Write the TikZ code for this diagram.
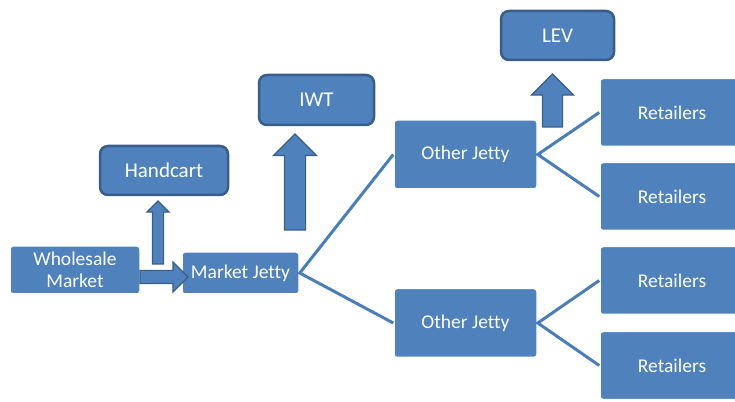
\documentclass[tikz,border=0pt]{standalone}
\usepackage{fontspec}
\setmainfont[Ligatures=NoCommon]{Carlito}
\usetikzlibrary{shapes.arrows}
\definecolor{boxfill}{HTML}{4F81BD}
\definecolor{boxline}{HTML}{385D8A}
\definecolor{linkc}{HTML}{4A7EBB}

\begin{document}
\begin{tikzpicture}[x=1pt, y=1pt, font=\fontsize{19.5}{22}\selectfont,
    flat/.style={fill=boxfill, draw=white, line width=1.5pt, rounded corners=3pt, text=white, align=center, inner sep=0pt},
    mode/.style={fill=boxfill, draw=boxline, line width=2.5pt, rounded corners=8pt, text=white, inner sep=0pt,
      font=\fontsize{21}{24}\selectfont},
    link/.style={draw=linkc, line width=3pt},
    blockarrow/.style={single arrow, fill=boxfill, draw=boxline, line width=1.2pt, inner sep=0pt, outer sep=0pt,
      minimum width=0pt, single arrow tip angle=90, single arrow head indent=0pt}]
  \useasboundingbox (0,0) rectangle (735,401);
  \clip (0,0) rectangle (735,401);
  \node[flat, minimum width=130pt, minimum height=48pt] (wm) at (75,131) {Wholesale\\Market};
  \node[flat, minimum width=117pt, minimum height=42pt] (mj) at (240.5,128) {Market Jetty};
  \node[mode, minimum width=128pt, minimum height=49pt] (hc) at (164,230.5) {Handcart};
  \node[mode, minimum width=115pt, minimum height=50pt] (iwt) at (316.5,301) {IWT};
  \node[mode, minimum width=113pt, minimum height=49pt] (lev) at (557.5,365.5) {LEV};
  \node[flat, minimum width=143pt, minimum height=69pt] (oj1) at (465.5,246.5) {Other Jetty};
  \node[flat, minimum width=143pt, minimum height=69pt] (oj2) at (465.5,78) {Other Jetty};
  \node[flat, minimum width=144pt, minimum height=68pt] (r1) at (672,288.5) {Retailers};
  \node[flat, minimum width=144pt, minimum height=68pt] (r2) at (672,204.5) {Retailers};
  \node[flat, minimum width=144pt, minimum height=68pt] (r3) at (672,120.5) {Retailers};
  \node[flat, minimum width=144pt, minimum height=68pt] (r4) at (672,35.5) {Retailers};
  % block arrows
  \node[blockarrow, minimum height=48pt, inner ysep=6pt, single arrow head extend=8.5pt, anchor=tail] (wmarr) at (140,124) {};
  \node[blockarrow, minimum height=63pt, inner ysep=5pt, single arrow head extend=5.5pt, rotate=90, anchor=tail] (hcarr) at (158,137) {};
  \node[blockarrow, minimum height=96pt, inner ysep=10pt, single arrow head extend=11pt, rotate=90, anchor=tail] (iwtarr) at (295,171) {};
  \node[blockarrow, minimum height=53pt, inner ysep=9.5pt, single arrow head extend=11pt, rotate=90, anchor=tail] (levarr) at (552.5,274) {};
  % links
  \draw[link] (oj1.west) -- (mj.east) -- (oj2.west);
  \draw[link] (r1.west) -- (oj1.east) -- (r2.west);
  \draw[link] (r3.west) -- (oj2.east) -- (r4.west);
\end{tikzpicture}
\end{document}
